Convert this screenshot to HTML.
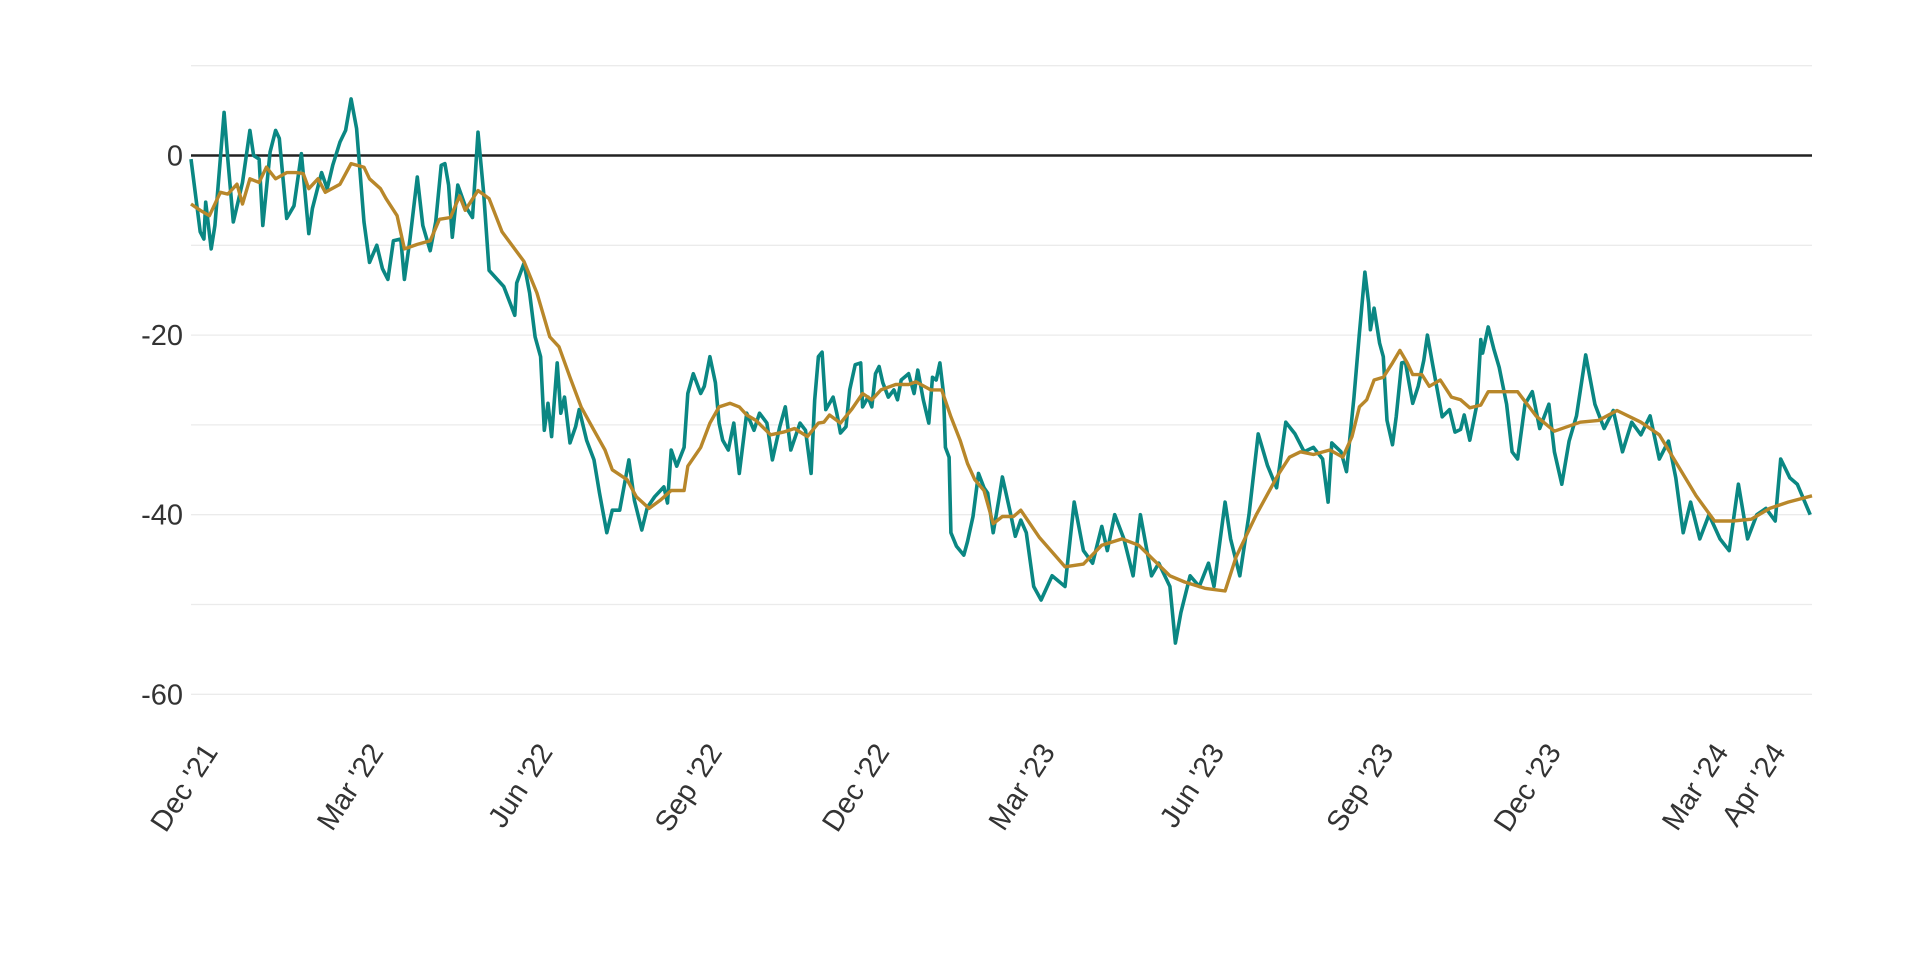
<!DOCTYPE html>
<html><head><meta charset="utf-8"><style>
html,body{margin:0;padding:0;background:#fff;}
svg{display:block;font-family:"Liberation Sans",sans-serif;}
</style></head><body>
<svg id="chart" width="1920" height="960" viewBox="0 0 1920 960" xmlns="http://www.w3.org/2000/svg">
<g id="grid"></g>
<g id="yaxis"></g>
<g id="xaxis"></g>
<g id="series"></g>
</svg>
<script>
const yTicks=[10,0,-10,-20,-30,-40,-50,-60];
const yLabels=["","0","","-20","","-40","","-60"];
const xTickDays=[0,90,182,274,365,455,547,639,730,821,852];
const xTickLabels=["Dec '21","Mar '22","Jun '22","Sep '22","Dec '22","Mar '23","Jun '23","Sep '23","Dec '23","Mar '24","Apr '24"];
const tealDays=[-1,4,6,7,10,12,17,19,22,25,27,31,33,36,38,42,45,47,51,55,59,63,65,70,73,76,80,83,86,89,93,96,100,103,106,109,113,115,118,122,125,129,132,135,137,139,141,144,148,152,155,158,161,169,175,176,180,183,186,189,191,193,195,198,200,202,205,208,210,214,218,221,225,228,232,237,240,244,247,251,256,258,260,263,267,269,272,276,278,281,284,286,288,291,294,297,301,305,308,312,315,319,322,325,330,333,336,338,340,342,344,348,350,352,355,357,360,363,364,367,369,371,373,375,378,381,383,385,389,392,394,397,400,402,404,406,408,409,411,412,415,419,421,424,427,430,432,435,438,440,444,447,450,453,457,461,467,474,479,484,489,494,497,501,506,511,515,521,525,531,534,537,542,547,552,555,561,564,569,574,579,584,589,594,599,604,609,614,617,619,624,627,631,634,637,639,640,642,645,647,649,652,654,657,659,661,663,666,669,671,674,679,683,686,689,691,694,698,700,701,704,707,710,714,717,720,724,728,732,737,740,744,748,752,757,762,767,772,777,782,787,792,797,802,806,810,814,819,824,830,835,840,845,850,855,860,863,868,872,879];
const tealValues=[-0.4,-8.5,-9.3,-5.2,-10.4,-7.8,4.8,-0.4,-7.4,-4.8,-3,2.8,0,-0.4,-7.8,0.4,2.8,1.9,-7,-5.6,0.2,-8.7,-5.9,-1.9,-3.7,-1.1,1.5,2.8,6.3,3,-7.4,-11.9,-10,-12.6,-13.8,-9.5,-9.3,-13.8,-9.3,-2.4,-7.8,-10.6,-7.4,-1.1,-0.9,-3.3,-9.1,-3.3,-5.6,-6.9,2.6,-4.1,-12.8,-14.6,-17.8,-14.2,-12,-15.3,-20.2,-22.4,-30.6,-27.6,-31.3,-23.1,-28.7,-26.9,-32,-30.2,-28.3,-31.7,-33.9,-37.6,-42,-39.5,-39.5,-33.9,-38.4,-41.7,-39.2,-38,-36.9,-38.7,-32.8,-34.6,-32.5,-26.5,-24.3,-26.5,-25.7,-22.4,-25.3,-29.8,-31.7,-32.8,-29.8,-35.4,-28.7,-30.6,-28.7,-29.8,-33.9,-30.2,-28,-32.8,-29.8,-30.6,-35.4,-27.2,-22.4,-21.9,-28.3,-26.9,-28.7,-30.9,-30.2,-26.1,-23.3,-23.1,-28,-26.9,-28,-24.3,-23.5,-25.3,-26.9,-26.1,-27.2,-25,-24.3,-26.5,-23.9,-27.2,-29.8,-24.7,-25,-23.1,-26.5,-32.5,-33.6,-42,-43.5,-44.5,-43,-40.2,-35.4,-37,-37.6,-42,-38.4,-35.8,-39.5,-42.4,-40.6,-42,-48,-49.5,-46.8,-48,-38.6,-44,-45.4,-41.3,-44,-40,-42.7,-46.8,-40,-46.8,-45.4,-48,-54.3,-50.9,-46.8,-48,-45.4,-48,-38.6,-42.7,-46.8,-40,-31,-34.5,-37,-29.7,-31,-33,-32.5,-33.8,-38.6,-32,-33,-35.2,-27,-19.8,-13,-16.4,-19.4,-17,-20.9,-22.4,-29.5,-32.2,-29.1,-23.1,-23,-25.3,-27.6,-25.7,-22.8,-20,-23.5,-29.1,-28.3,-30.8,-30.5,-28.9,-31.7,-27.6,-20.5,-22,-19.1,-21.5,-23.6,-27.7,-33,-33.8,-27.7,-26.3,-30.4,-27.7,-33,-36.6,-31.8,-29,-22.2,-27.7,-30.4,-28.4,-33,-29.7,-31.1,-29,-33.8,-31.8,-35.9,-42,-38.6,-42.7,-40,-42.7,-44,-36.6,-42.7,-40,-39.3,-40.7,-33.8,-35.9,-36.6,-40,-40.2];
const avgDays=[-1,4,9,15,19,24,27,31,36,40,45,51,56,60,63,68,72,80,86,93,96,102,105,111,115,122,129,134,140,145,148,155,161,168,180,187,194,199,205,211,218,224,228,236,241,248,254,260,267,269,276,281,286,292,297,301,306,314,321,327,334,340,343,346,352,358,364,369,374,382,389,393,401,407,412,417,421,425,430,435,440,446,450,455,460,474,484,494,505,514,531,539,550,561,567,578,590,596,602,609,618,625,630,634,638,642,647,652,656,660,663,668,672,678,684,689,694,700,704,720,730,740,754,764,774,787,797,807,817,827,837,847,857,867,880];
const avgValues=[-5.4,-6.1,-6.7,-4.1,-4.3,-3.2,-5.4,-2.6,-3,-1.3,-2.6,-1.9,-1.9,-2,-3.7,-2.6,-4.1,-3.2,-0.9,-1.3,-2.6,-3.7,-4.8,-6.7,-10.4,-9.9,-9.5,-7.1,-6.9,-4.5,-6.1,-3.9,-4.8,-8.5,-11.8,-15.3,-20.2,-21.3,-24.7,-28,-30.6,-32.8,-35,-36.1,-38,-39.3,-38.4,-37.3,-37.3,-34.6,-32.5,-29.8,-28,-27.6,-28,-28.9,-29.5,-31.1,-30.8,-30.4,-31.3,-29.8,-29.7,-28.9,-29.8,-28.3,-26.5,-27.2,-26.1,-25.5,-25.5,-25.2,-26.1,-26.1,-29.1,-31.7,-34.3,-36.1,-37.3,-41,-40.2,-40.2,-39.5,-41,-42.5,-45.8,-45.5,-43.4,-42.7,-43.4,-46.8,-47.5,-48.2,-48.5,-44.7,-40,-35.5,-33.6,-33,-33.3,-32.8,-33.6,-31.3,-28,-27.2,-25,-24.7,-23.1,-21.7,-23.1,-24.4,-24.4,-25.7,-25,-26.9,-27.2,-28.1,-27.8,-26.3,-26.3,-29,-30.7,-29.7,-29.5,-28.4,-29.7,-31.1,-34.5,-37.9,-40.7,-40.7,-40.5,-39.3,-38.6,-37.9];

const NS="http://www.w3.org/2000/svg";
const X0=191,X1=1812,D0=-1,D1=880;
const xs=d=>X0+(d-D0)/(D1-D0)*(X1-X0);
const Y0=155.5,PU=8.98;
const ys=v=>Y0-v*PU;
function mk(tag,attrs,parent){const e=document.createElementNS(NS,tag);for(const k in attrs)e.setAttribute(k,attrs[k]);parent.appendChild(e);return e;}
const grid=document.getElementById('grid'),yax=document.getElementById('yaxis'),xax=document.getElementById('xaxis'),ser=document.getElementById('series');
yTicks.forEach((t,i)=>{
  if(t!==0){const l=mk('line',{x1:X0,x2:X1,y1:ys(t),y2:ys(t),stroke:'#ebebeb','stroke-width':1.3},grid);
  
  }
  if(yLabels[i]){const tx=mk('text',{x:183,y:ys(t)+10,'text-anchor':'end','font-size':29,fill:'#333'},yax);tx.textContent=yLabels[i];
  
  }
});
xTickDays.forEach((d,i)=>{
  const x=xs(d);
  const tx=mk('text',{x:0,y:0,'text-anchor':'end','font-size':29,fill:'#333',transform:`translate(${x+26},752) rotate(-57)`},xax);
  tx.textContent=xTickLabels[i];
  
  
});
function line(days,vals,color,w,name){
  const d=days.map((dd,i)=>(i?'L':'M')+xs(dd).toFixed(1)+','+ys(vals[i]).toFixed(1)).join('');
  const p=mk('path',{d:d,fill:'none',stroke:color,'stroke-width':w,'stroke-linejoin':'round'},ser);
  
  
}
const z=mk('line',{x1:X0,x2:X1,y1:ys(0),y2:ys(0),stroke:'#222','stroke-width':2.6},ser);


line(tealDays,tealValues,'#0a8783',3.6,'daily-series-line');
line(avgDays,avgValues,'#b8872a',3.4,'moving-average-line');
</script>
</body></html>
